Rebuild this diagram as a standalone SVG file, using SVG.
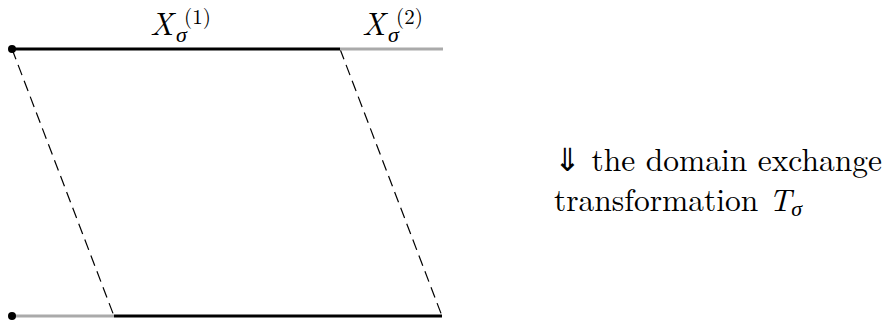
<svg xmlns="http://www.w3.org/2000/svg" width="885" height="331" viewBox="0 0 885 331">
<style>
.blk{stroke:#000;stroke-width:3.2;fill:none}
.gry{stroke:#aaa;stroke-width:3.2;fill:none}
.dsh{stroke:#000;stroke-width:1.2;stroke-dasharray:11 6;fill:none}
text{font-family:"Latin Modern Roman","Liberation Serif",serif;fill:#000}
.t{font-size:31.5px}
.X{font-size:31.5px;font-style:italic}
.sub{font-size:22px;font-style:italic}
.sup{font-size:21px}
</style>
<rect width="885" height="331" fill="#fff"/>
<g id="connectors">
<line class="dsh" x1="12" y1="49" x2="114" y2="316"/>
<line class="dsh" x1="340" y1="49" x2="442" y2="316"/>
</g>
<g id="top">
<line class="gry" x1="340" y1="49" x2="443" y2="49"/>
<line class="blk" x1="12" y1="49" x2="340" y2="49"/>
<circle cx="12" cy="49" r="4" fill="#000"/>
</g>
<g id="bottom">
<line class="gry" x1="12" y1="316" x2="114" y2="316"/>
<line class="blk" x1="114" y1="316" x2="442" y2="316"/>
<circle cx="12" cy="316" r="4" fill="#000"/>
</g>
<g id="label1">
<text class="X" x="150" y="35">X</text>
<text class="sub" x="176" y="42">σ</text>
<text class="sup" x="184" y="24">(1)</text>
</g>
<g id="label2">
<text class="X" x="362" y="35">X</text>
<text class="sub" x="388" y="42">σ</text>
<text class="sup" x="396" y="24">(2)</text>
</g>
<g id="caption">
<text class="t" x="554" y="171">⇓ the domain exchange</text>
<text class="t" x="554" y="211">transformation <tspan class="X">T</tspan><tspan class="sub" dy="5">σ</tspan></text>
</g>
</svg>
